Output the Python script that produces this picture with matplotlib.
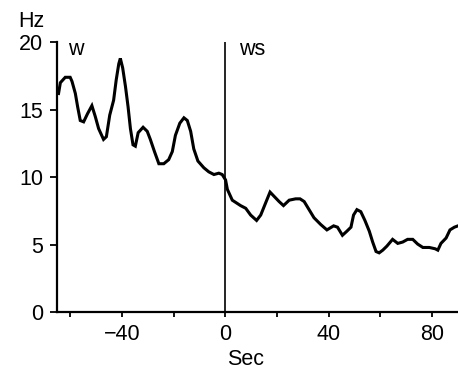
import matplotlib
matplotlib.use("Agg")
import matplotlib.pyplot as plt
import numpy as np

# firing rate (sec, Hz)
sec = [-64.5, -63.8, -61.9, -60.0, -59.3, -58.0, -57.1, -56.1, -54.8, -53.3,
       -51.6, -50.3, -49.0, -47.1, -46.0, -44.7, -43.2, -42.2, -41.2, -40.6,
       -39.7, -38.6, -37.6, -36.7, -35.7, -34.8, -33.7, -31.8, -30.2, -29.0,
       -27.4, -25.7, -23.8, -21.9, -20.5, -19.3, -17.6, -16.0, -14.7, -13.4,
       -12.2, -10.6, -8.3, -6.4, -4.4, -2.5, -1.2, 0.1, 0.8, 2.7,
       5.9, 7.9, 9.8, 12.1, 13.7, 15.6, 17.3, 18.8, 20.8, 22.5,
       24.7, 27.2, 28.9, 30.5, 32.4, 34.3, 36.9, 39.3, 41.9, 43.4,
       45.3, 47.0, 48.6, 49.6, 50.9, 52.4, 54.0, 55.7, 57.0, 58.3,
       59.5, 60.9, 62.5, 64.7, 66.7, 68.6, 70.5, 72.5, 74.4, 76.4,
       78.9, 81.2, 82.2, 83.4, 85.4, 86.9, 88.6, 90.0]
hz = [16.2, 17.0, 17.4, 17.4, 17.1, 16.2, 15.2, 14.2, 14.1, 14.7,
      15.3, 14.5, 13.6, 12.8, 13.0, 14.6, 15.7, 17.2, 18.4, 18.8,
      18.1, 16.7, 15.2, 13.6, 12.4, 12.3, 13.3, 13.7, 13.4, 12.8,
      11.9, 11.0, 11.0, 11.3, 11.9, 13.1, 14.0, 14.4, 14.2, 13.4,
      12.1, 11.2, 10.7, 10.4, 10.2, 10.3, 10.2, 9.8, 9.1, 8.3,
      7.9, 7.7, 7.2, 6.8, 7.2, 8.1, 8.9, 8.6, 8.2, 7.9,
      8.3, 8.4, 8.4, 8.2, 7.6, 7.0, 6.5, 6.1, 6.4, 6.3,
      5.7, 6.0, 6.3, 7.2, 7.6, 7.45, 6.8, 6.0, 5.2, 4.5,
      4.4, 4.6, 4.9, 5.4, 5.1, 5.2, 5.4, 5.4, 5.05, 4.8,
      4.8, 4.7, 4.6, 5.1, 5.5, 6.1, 6.3, 6.4]

xticks = [-60, -40, -20, 0, 20, 40, 60, 80]
xticklabels = ['', '\u221240', '', '0', '', '40', '', '80']
yticks = [0, 5, 10, 15, 20]

plt.rcParams['font.family'] = ['Liberation Sans', 'DejaVu Sans']
fs = 15.5

fig = plt.figure(figsize=(4.58, 3.70), dpi=100)
ax = fig.add_axes([0.125, 0.156, 0.875, 0.730])

ax.plot(sec, hz, color='black', lw=2.2, solid_joinstyle='miter')
ax.axvline(0, color='black', lw=1.2)

ax.set_xlim(-65, 90)
ax.set_ylim(0, 20)
ax.set_xticks(xticks)
ax.set_xticklabels(xticklabels)
ax.set_yticks(yticks)

for s in ['top', 'right']:
    ax.spines[s].set_visible(False)
for s in ['left', 'bottom']:
    ax.spines[s].set_linewidth(1.6)
ax.tick_params(axis='x', direction='out', length=3.5, width=1.3, labelsize=fs, pad=5)
ax.tick_params(axis='y', direction='out', length=5, width=1.3, labelsize=fs, pad=5)

ax.text(-60.7, 19.06, 'w', fontsize=fs, va='baseline')
ax.text(5.3, 19.06, 'ws', fontsize=fs, va='baseline')
fig.text(18 / 458, 1 - 27 / 370, 'Hz', fontsize=fs, va='baseline')
ax.text(7.9, -0.196, 'Sec', fontsize=fs, ha='center', va='baseline',
        transform=ax.get_xaxis_transform())

fig.savefig('out.png', dpi=100)
